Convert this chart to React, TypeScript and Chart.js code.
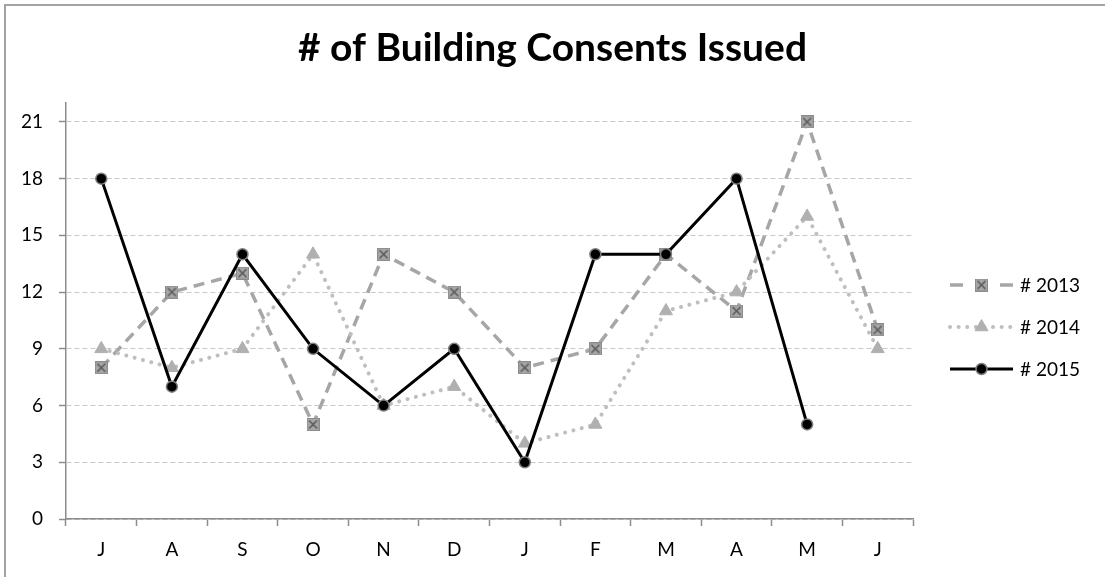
import React, { useEffect, useRef } from 'react';
import { Chart, registerables } from 'chart.js';
import { drawPoint } from 'chart.js/helpers';

Chart.register(...registerables);

const chartTitle = '# of Building Consents Issued';
const months = ['J', 'A', 'S', 'O', 'N', 'D', 'J', 'F', 'M', 'A', 'M', 'J'];
const seriesLabels = ['# 2013', '# 2014', '# 2015'];
const values2013 = [8, 12, 13, 5, 14, 12, 8, 9, 14, 11, 21, 10];
const values2014 = [9, 8, 9, 14, 6, 7, 4, 5, 11, 12, 16, 9];
const values2015: (number | null)[] = [18, 7, 14, 9, 6, 9, 3, 14, 14, 18, 5, null];
const yTickValues = [0, 3, 6, 9, 12, 15, 18, 21];
const yMin = 0;
const yMax = 22;

const FONT = 'Lato, "Open Sans", sans-serif';

function makeBoxCross(): HTMLCanvasElement {
  const c = document.createElement('canvas');
  c.width = 13;
  c.height = 13;
  const g = c.getContext('2d')!;
  g.fillStyle = '#a6a6a6';
  g.fillRect(0.5, 0.5, 12, 12);
  g.strokeStyle = '#8c8c8c';
  g.lineWidth = 1;
  g.strokeRect(0.5, 0.5, 12, 12);
  g.strokeStyle = '#5a5a5a';
  g.lineWidth = 1.6;
  g.beginPath();
  g.moveTo(2.5, 2.5);
  g.lineTo(10.5, 10.5);
  g.moveTo(10.5, 2.5);
  g.lineTo(2.5, 10.5);
  g.stroke();
  return c;
}

const titlePlugin = {
  id: 'excelTitle',
  afterDraw(chart: any) {
    const ctx = chart.ctx as CanvasRenderingContext2D;
    ctx.save();
    ctx.font = `bold 39px ${FONT}`;
    const w = ctx.measureText(chartTitle).width;
    const s = Math.min(1, 509 / w);
    ctx.translate(chart.width / 2, 61);
    ctx.scale(s, 1);
    ctx.fillStyle = '#000';
    ctx.textAlign = 'center';
    ctx.textBaseline = 'alphabetic';
    ctx.fillText(chartTitle, 0, 0);
    ctx.restore();
  },
};

const legendPlugin = {
  id: 'sideLegend',
  afterDraw(chart: any) {
    const ctx = chart.ctx as CanvasRenderingContext2D;
    const x0 = chart.chartArea.right + 37;
    const lineLen = 63;
    const y0 = 285;
    const gap = 42;
    chart.data.datasets.forEach((ds: any, i: number) => {
      const y = y0 + i * gap;
      ctx.save();
      ctx.strokeStyle = ds.borderColor;
      ctx.lineWidth = ds.borderWidth;
      ctx.setLineDash(ds.legendDash || ds.borderDash || []);
      ctx.lineCap = ds.borderCapStyle || 'butt';
      ctx.beginPath();
      ctx.moveTo(x0, y);
      ctx.lineTo(x0 + lineLen, y);
      ctx.stroke();
      ctx.setLineDash([]);
      ctx.lineCap = 'butt';
      ctx.fillStyle = ds.pointBackgroundColor || '#000';
      ctx.strokeStyle = ds.pointBorderColor || '#000';
      ctx.lineWidth = ds.pointBorderWidth || 1;
      drawPoint(
        ctx,
        { pointStyle: ds.pointStyle, radius: ds.pointRadius, rotation: 0, borderWidth: ds.pointBorderWidth || 0 } as any,
        x0 + lineLen / 2,
        y
      );
      ctx.fillStyle = '#000';
      ctx.font = `19px ${FONT}`;
      ctx.textAlign = 'left';
      ctx.textBaseline = 'middle';
      ctx.fillText(ds.label, x0 + lineLen + 7, y + 1);
      ctx.restore();
    });
  },
};

export default function App() {
  const canvasRef = useRef<HTMLCanvasElement | null>(null);

  useEffect(() => {
    if (!canvasRef.current) return;
    const boxCross = makeBoxCross();
    const chart = new Chart(canvasRef.current, {
      type: 'line',
      data: {
        labels: months,
        datasets: [
          {
            label: seriesLabels[0],
            data: values2013,
            borderColor: '#a6a6a6',
            borderWidth: 3.5,
            borderDash: [11, 7],
            legendDash: [13, 37],
            pointStyle: boxCross,
            pointRadius: 6,
            pointBackgroundColor: '#a6a6a6',
            pointBorderColor: '#8c8c8c',
            pointBorderWidth: 0,
            tension: 0,
            order: 2,
          } as any,
          {
            label: seriesLabels[1],
            data: values2014,
            borderColor: '#bfbfbf',
            borderWidth: 4,
            borderDash: [0.1, 8.5],
            borderCapStyle: 'round',
            pointStyle: 'triangle',
            pointRadius: 7.5,
            pointBackgroundColor: '#b0b0b0',
            pointBorderColor: '#b0b0b0',
            pointBorderWidth: 1,
            tension: 0,
            order: 1,
          } as any,
          {
            label: seriesLabels[2],
            data: values2015,
            borderColor: '#000000',
            borderWidth: 3,
            pointStyle: 'circle',
            pointRadius: 5.5,
            pointBackgroundColor: '#000000',
            pointBorderColor: '#7f7f7f',
            pointBorderWidth: 1.5,
            tension: 0,
            order: 0,
          } as any,
        ],
      },
      options: {
        responsive: false,
        animation: false,
        layout: { padding: { left: 0, top: 103, right: 192, bottom: 0 } },
        plugins: {
          legend: { display: false },
          title: { display: false },
          tooltip: { enabled: false },
        },
        scales: {
          x: {
            type: 'category',
            offset: true,
            afterFit: (scale: any) => {
              scale.height = 58;
            },
            grid: {
              offset: true,
              drawOnChartArea: false,
              drawTicks: true,
              tickLength: 7,
              tickColor: '#8c8c8c',
              tickWidth: 1.5,
            },
            border: { display: true, color: '#8c8c8c', width: 1.5 },
            ticks: {
              color: '#000',
              font: { family: FONT, size: 19 },
              padding: 12,
              maxRotation: 0,
              autoSkip: false,
            },
          },
          y: {
            type: 'linear',
            min: yMin,
            max: yMax,
            afterFit: (scale: any) => {
              scale.width = 66;
            },
            afterBuildTicks: (scale: any) => {
              scale.ticks = yTickValues.map((v) => ({ value: v }));
            },
            grid: {
              color: '#c8c8c8',
              lineWidth: 1,
              drawTicks: true,
              tickLength: 7,
              tickColor: '#8c8c8c',
              tickWidth: 1.5,
            },
            border: { display: true, color: '#8c8c8c', width: 1.5, dash: [5, 3] },
            ticks: {
              color: '#000',
              font: { family: FONT, size: 19 },
              padding: 16,
            },
          },
        },
      } as any,
      plugins: [titlePlugin, legendPlugin],
    });
    return () => chart.destroy();
  }, []);

  return (
    <div
      style={{
        position: 'fixed',
        left: 0,
        top: 0,
        width: 1105,
        height: 577,
        overflow: 'hidden',
        background: '#fff',
      }}
    >
      <div
        style={{
          position: 'absolute',
          left: 4,
          top: 4,
          width: 1200,
          height: 700,
          border: '2px solid #a3a3a3',
        }}
      />
      <canvas
        ref={canvasRef}
        width={1105}
        height={577}
        style={{ position: 'absolute', left: 0, top: 0, width: 1105, height: 577 }}
      />
    </div>
  );
}
